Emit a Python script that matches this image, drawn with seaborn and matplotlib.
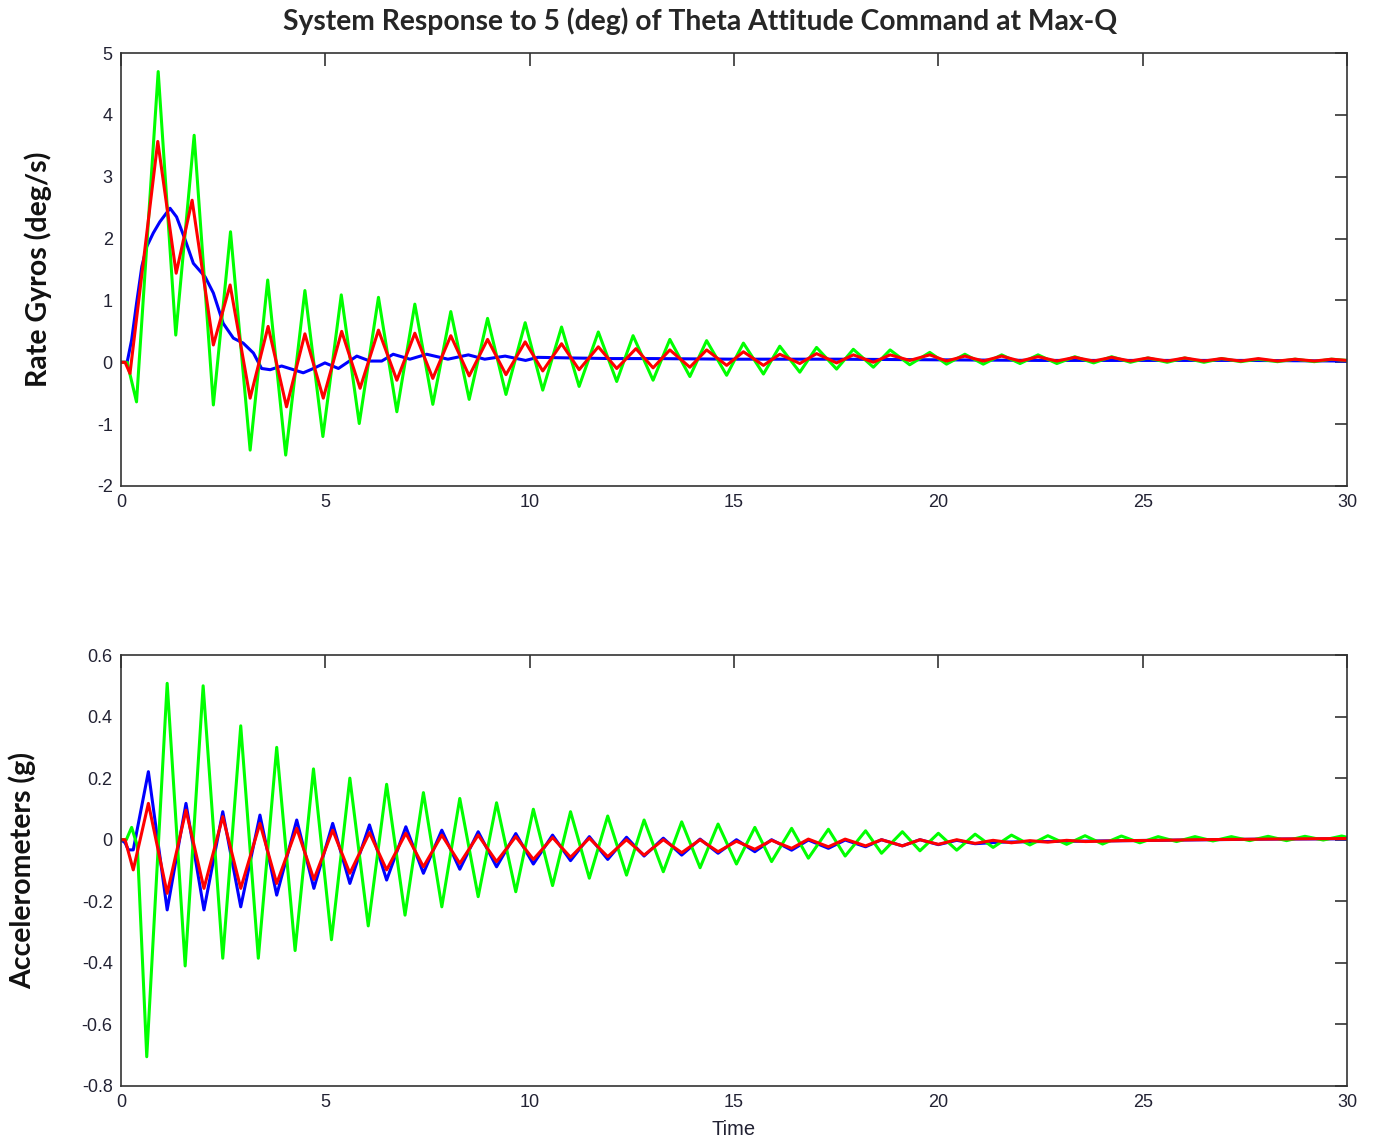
import numpy as np
import pandas as pd
import matplotlib
matplotlib.use("Agg")
import matplotlib.pyplot as plt
import seaborn as sns

# --- Rate gyros (top panel), values read at peaks / troughs ---
b_top_t = [0, 0.15, 0.26, 0.38, 0.51, 0.63, 0.79, 0.95, 1.20, 1.36,
           1.57, 1.77, 2.06, 2.26, 2.50, 2.75, 2.99, 3.24, 3.44, 3.65,
           3.93, 4.22, 4.46, 4.71, 4.99, 5.32, 5.77, 6.09, 6.38, 6.66,
           7.07, 7.48, 8.0, 8.5, 8.9, 9.4, 9.9, 10.2, 11.0, 12.0,
           13.0, 15.0, 17.5, 20.0, 22.5, 25.0, 27.5, 30.0]
b_top_v = [0, 0.0, 0.36, 0.95, 1.55, 1.87, 2.09, 2.27, 2.49, 2.35,
           1.98, 1.60, 1.38, 1.12, 0.63, 0.39, 0.31, 0.15, -0.10, -0.12,
           -0.06, -0.12, -0.17, -0.10, -0.01, -0.10, 0.10, 0.02, 0.02, 0.13,
           0.05, 0.13, 0.05, 0.12, 0.05, 0.10, 0.03, 0.08, 0.07, 0.06,
           0.06, 0.05, 0.05, 0.04, 0.03, 0.03, 0.03, 0.02]

g_top_t = [0, 0.15, 0.38, 0.91, 1.34, 1.79, 2.26, 2.68, 3.16, 3.59, 4.03, 4.50,
           4.94, 5.39, 5.83, 6.30, 6.75, 7.19, 7.63, 8.07, 8.52, 8.97, 9.42, 9.89,
           10.32, 10.78, 11.21, 11.68, 12.13, 12.53, 13.02, 13.43, 13.92, 14.33, 14.82, 15.23,
           15.72, 16.12, 16.61, 17.02, 17.51, 17.92, 18.41, 18.82, 19.3, 19.79, 20.2, 20.65,
           21.1, 21.55, 22.0, 22.44, 22.9, 23.34, 23.8, 24.24, 24.7, 25.13, 25.6, 26.03,
           26.5, 26.93, 27.4, 27.83, 28.3, 28.73, 29.2, 29.62, 30.0]
g_top_v = [0, 0, -0.64, 4.70, 0.44, 3.67, -0.69, 2.11, -1.42, 1.33, -1.50, 1.16,
           -1.20, 1.09, -0.99, 1.05, -0.80, 0.94, -0.68, 0.82, -0.60, 0.71, -0.52, 0.64,
           -0.45, 0.57, -0.39, 0.49, -0.31, 0.43, -0.29, 0.37, -0.23, 0.35, -0.21, 0.31,
           -0.19, 0.26, -0.16, 0.24, -0.11, 0.21, -0.08, 0.20, -0.04, 0.16, -0.03, 0.13,
           -0.03, 0.12, -0.02, 0.12, -0.02, 0.09, -0.01, 0.09, 0.0, 0.07, 0.0, 0.07,
           0.0, 0.06, 0.01, 0.05, 0.01, 0.05, 0.01, 0.05, 0.03]

r_top_t = [0, 0.1, 0.22, 0.90, 1.35, 1.74, 2.26, 2.67, 3.16, 3.60, 4.05, 4.50,
           4.95, 5.40, 5.85, 6.30, 6.75, 7.19, 7.63, 8.07, 8.52, 8.97, 9.42, 9.89,
           10.32, 10.78, 11.21, 11.68, 12.13, 12.6, 13.02, 13.43, 13.92, 14.33, 14.82, 15.23,
           15.72, 16.12, 16.61, 17.02, 17.51, 17.92, 18.41, 18.82, 19.3, 19.79, 20.2, 20.65,
           21.1, 21.55, 22.0, 22.44, 22.9, 23.34, 23.8, 24.24, 24.7, 25.13, 25.6, 26.03,
           26.5, 26.93, 27.4, 27.83, 28.3, 28.73, 29.2, 29.62, 30.0]
r_top_v = [0, 0, -0.18, 3.57, 1.44, 2.62, 0.28, 1.25, -0.58, 0.58, -0.72, 0.46,
           -0.58, 0.50, -0.42, 0.52, -0.29, 0.47, -0.26, 0.43, -0.22, 0.37, -0.20, 0.33,
           -0.14, 0.30, -0.12, 0.25, -0.10, 0.22, -0.09, 0.20, -0.08, 0.20, -0.05, 0.17,
           -0.05, 0.13, -0.02, 0.14, -0.01, 0.12, 0.0, 0.12, 0.03, 0.12, 0.02, 0.10,
           0.02, 0.10, 0.02, 0.09, 0.02, 0.08, 0.02, 0.08, 0.02, 0.07, 0.02, 0.07,
           0.02, 0.06, 0.02, 0.06, 0.02, 0.05, 0.02, 0.05, 0.03]

# --- Accelerometers (bottom panel) ---
b_bot_t = [0, 0.10, 0.18, 0.30, 0.67, 1.13, 1.59, 2.03, 2.49, 2.93,
           3.40, 3.81, 4.30, 4.72, 5.18, 5.60, 6.08, 6.50, 6.97, 7.40,
           7.85, 8.29, 8.74, 9.19, 9.66, 10.09, 10.56, 11.0, 11.46, 11.91,
           12.37, 12.80, 13.27, 13.72, 14.17, 14.61, 15.06, 15.51, 15.92, 16.41,
           16.82, 17.31, 17.72, 18.22, 18.61, 19.12, 19.55, 20.0, 20.45, 20.9,
           21.5, 22.5, 24.0, 26.0, 28.0, 30.0]
b_bot_v = [0, -0.01, -0.033, -0.033, 0.221, -0.228, 0.118, -0.228, 0.091, -0.218,
           0.080, -0.180, 0.064, -0.158, 0.053, -0.142, 0.048, -0.131, 0.042, -0.109,
           0.031, -0.096, 0.026, -0.088, 0.020, -0.079, 0.015, -0.068, 0.010, -0.064,
           0.008, -0.053, 0.005, -0.050, 0.002, -0.044, 0.0, -0.039, 0.0, -0.034,
           -0.001, -0.028, -0.001, -0.023, 0.0, -0.020, 0.0, -0.016, -0.002, -0.013,
           -0.008, -0.006, -0.004, -0.001, 0.002, 0.003]

g_bot_t = [0, 0.13, 0.26, 0.40, 0.63, 1.13, 1.57, 2.01, 2.49, 2.93,
           3.36, 3.81, 4.26, 4.71, 5.15, 5.60, 6.05, 6.50, 6.95, 7.40,
           7.85, 8.29, 8.74, 9.19, 9.66, 10.09, 10.56, 11.0, 11.46, 11.91,
           12.37, 12.80, 13.27, 13.72, 14.17, 14.61, 15.06, 15.51, 15.92, 16.41,
           16.82, 17.31, 17.72, 18.22, 18.61, 19.12, 19.55, 20.0, 20.45, 20.9,
           21.34, 21.79, 22.24, 22.68, 23.14, 23.59, 24.02, 24.48, 24.93, 25.38,
           25.83, 26.28, 26.72, 27.17, 27.62, 28.07, 28.52, 28.97, 29.42, 29.87, 30.0]
g_bot_v = [0, 0.0, 0.04, -0.02, -0.705, 0.508, -0.41, 0.50, -0.385, 0.37,
           -0.385, 0.30, -0.36, 0.23, -0.325, 0.20, -0.28, 0.18, -0.245, 0.153,
           -0.218, 0.134, -0.185, 0.12, -0.169, 0.099, -0.149, 0.091, -0.125, 0.077,
           -0.115, 0.064, -0.104, 0.058, -0.091, 0.051, -0.079, 0.040, -0.071, 0.037,
           -0.060, 0.034, -0.053, 0.029, -0.044, 0.026, -0.036, 0.021, -0.034, 0.018,
           -0.025, 0.015, -0.017, 0.013, -0.015, 0.013, -0.014, 0.012, -0.010, 0.010,
           -0.006, 0.010, -0.004, 0.010, -0.003, 0.011, -0.003, 0.011, -0.001, 0.012, 0.008]

r_bot_t = [0, 0.10, 0.30, 0.67, 1.13, 1.59, 2.03, 2.49, 2.93, 3.40,
           3.81, 4.30, 4.72, 5.18, 5.60, 6.08, 6.50, 6.97, 7.40, 7.85,
           8.29, 8.74, 9.19, 9.66, 10.09, 10.56, 11.0, 11.46, 11.91, 12.37,
           12.80, 13.27, 13.72, 14.17, 14.61, 15.06, 15.51, 15.92, 16.41, 16.82,
           17.31, 17.72, 18.22, 18.61, 19.12, 19.55, 20.0, 20.45, 20.9, 21.34,
           21.79, 22.24, 22.68, 23.14, 23.6, 24.5, 25.4, 26.3, 27.2, 28.1,
           29.0, 30.0]
r_bot_v = [0, 0.0, -0.098, 0.118, -0.174, 0.096, -0.158, 0.075, -0.158, 0.053,
           -0.142, 0.037, -0.129, 0.031, -0.109, 0.023, -0.098, 0.021, -0.088, 0.015,
           -0.077, 0.015, -0.071, 0.010, -0.064, 0.007, -0.057, 0.005, -0.055, 0.0,
           -0.050, 0.0, -0.042, 0.0, -0.039, -0.005, -0.031, -0.002, -0.028, 0.002,
           -0.023, 0.002, -0.020, 0.0, -0.020, 0.0, -0.015, 0.0, -0.012, -0.002,
           -0.010, -0.003, -0.008, -0.002, -0.006, -0.003, -0.002, 0.0, 0.001, 0.002,
           0.003, 0.004]

x_ticks = [0, 5, 10, 15, 20, 25, 30]
top_yticks = [-2, -1, 0, 1, 2, 3, 4, 5]
bot_yticks = [-0.8, -0.6, -0.4, -0.2, 0, 0.2, 0.4, 0.6]
top_ylabels = ["-2", "-1", "0", "1", "2", "3", "4", "5"]
bot_ylabels = ["-0.8", "-0.6", "-0.4", "-0.2", "0", "0.2", "0.4", "0.6"]

colors = {"b": "#0000ff", "g": "#00ff00", "r": "#ff0000"}


def long_df(parts):
    frames = []
    for name, t, v in parts:
        frames.append(pd.DataFrame({"t": t, "v": v, "s": name}))
    return pd.concat(frames, ignore_index=True)


top_df = long_df([("b", b_top_t, b_top_v), ("g", g_top_t, g_top_v), ("r", r_top_t, r_top_v)])
bot_df = long_df([("b", b_bot_t, b_bot_v), ("g", g_bot_t, g_bot_v), ("r", r_bot_t, r_bot_v)])

sns.set_style("white")
plt.rcParams["font.family"] = ["Liberation Sans", "DejaVu Sans"]
plt.rcParams["axes.unicode_minus"] = False

fig = plt.figure(figsize=(13.74, 11.41), dpi=100)
ax1 = fig.add_axes([121 / 1374, 1 - 486 / 1141, 1226 / 1374, 433 / 1141])
ax2 = fig.add_axes([121 / 1374, 1 - 1086 / 1141, 1226 / 1374, 431 / 1141])

for ax, df, yt, yl, lim in [(ax1, top_df, top_yticks, top_ylabels, (-2, 5)),
                            (ax2, bot_df, bot_yticks, bot_ylabels, (-0.8, 0.6))]:
    sns.lineplot(data=df, x="t", y="v", hue="s", hue_order=["b", "g", "r"],
                 palette=colors, estimator=None, legend=False, linewidth=2.2, ax=ax)
    ax.set_xlim(0, 30)
    ax.set_ylim(*lim)
    ax.set_xticks(x_ticks)
    ax.set_xticklabels([str(x) for x in x_ticks])
    ax.set_yticks(yt)
    ax.set_yticklabels(yl)
    ax.tick_params(direction="in", length=9, width=1.1, top=True, right=True,
                   labelsize=13, labelcolor="#222233", pad=6, color="#222222")
    for sp in ax.spines.values():
        sp.set_visible(True)
        sp.set_color("#333333")
        sp.set_linewidth(1.2)
    ax.set_xlabel("")

ax1.set_ylabel("Rate Gyros (deg/s)", family=["Lato", "DejaVu Sans"], fontsize=20.5,
               fontweight="bold", color="#111111")
ax1.yaxis.set_label_coords(-0.056, 0.5)
ax2.set_ylabel("Accelerometers (g)", family=["Lato", "DejaVu Sans"], fontsize=20.5,
               fontweight="bold", color="#111111")
ax2.yaxis.set_label_coords(-0.069, 0.5)
ax2.set_xlabel("Time", fontsize=14.5, color="#222233", labelpad=6)

fig.suptitle("System Response to 5 (deg) of Theta Attitude Command at Max-Q",
             x=700 / 1374, y=1 - 21 / 1141, va="center",
             family=["Lato", "DejaVu Sans"], fontsize=20.3, fontweight="bold")

fig.savefig("out.png", dpi=100, facecolor="white")
